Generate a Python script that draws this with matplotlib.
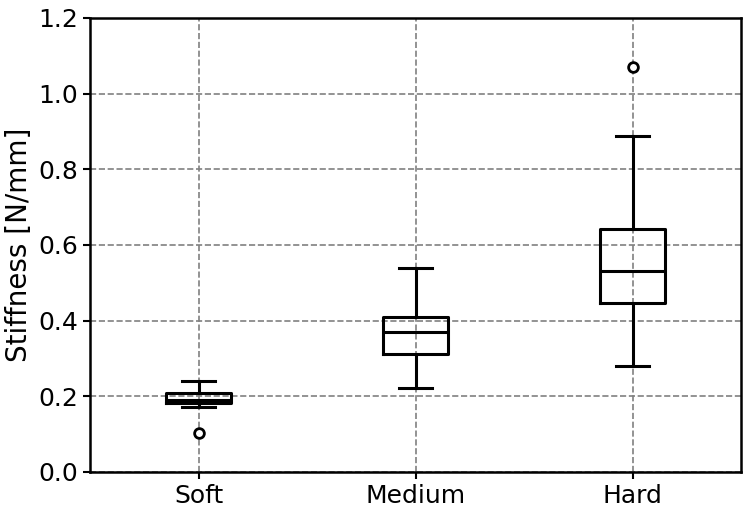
import matplotlib
matplotlib.use("Agg")
import matplotlib.pyplot as plt

labels = ["Soft", "Medium", "Hard"]
whislo = [0.171, 0.223, 0.280]
q1 = [0.183, 0.311, 0.4475]
med = [0.190, 0.371, 0.531]
q3 = [0.208, 0.4105, 0.6415]
whishi = [0.240, 0.539, 0.888]
fliers = [[0.102], [], [1.070]]

stats = [
	{"label": l, "whislo": a, "q1": b, "med": c, "q3": d, "whishi": e, "fliers": f}
	for l, a, b, c, d, e, f in zip(labels, whislo, q1, med, q3, whishi, fliers)
]

fig = plt.figure(figsize=(7.5, 5.13), dpi=100)
ax = fig.add_axes([0.12, 0.08, 0.868, 0.885])

lw = 2.2
ax.bxp(stats, widths=0.3, showfliers=True,
	boxprops=dict(color="black", linewidth=lw),
	medianprops=dict(color="black", linewidth=lw),
	whiskerprops=dict(color="black", linewidth=lw),
	capprops=dict(color="black", linewidth=lw),
	flierprops=dict(marker="o", markerfacecolor="white", markeredgecolor="black",
		markersize=7, markeredgewidth=2))

ax.set_ylim(0, 1.2)
ax.set_xlim(0.5, 3.5)
ax.set_ylabel("Stiffness [N/mm]", fontsize=20)
ax.tick_params(labelsize=18, width=1.5, length=5)
ax.grid(True, linestyle="--", color="gray", linewidth=1.2)
ax.set_axisbelow(True)
for s in ax.spines.values():
	s.set_linewidth(1.8)

fig.savefig("out.png", dpi=100)
